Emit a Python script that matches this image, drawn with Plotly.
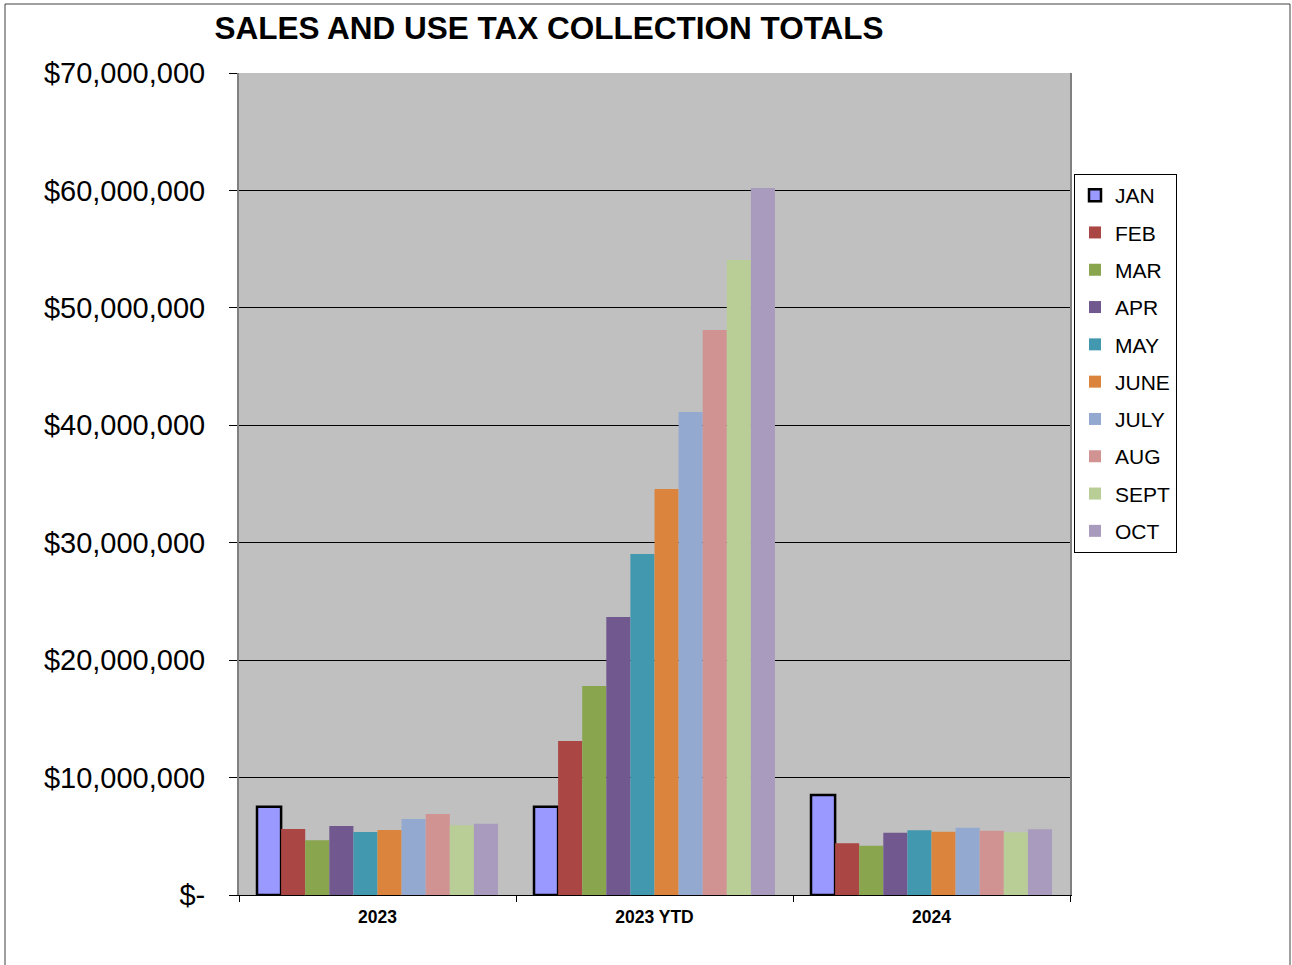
import plotly.graph_objects as go

categories = ["2023", "2023 YTD", "2024"]
months = ["JAN", "FEB", "MAR", "APR", "MAY", "JUNE", "JULY", "AUG", "SEPT", "OCT"]

vals_2023 = [7.52, 5.62, 4.66, 5.88, 5.37, 5.54, 6.47, 6.90, 5.93, 6.07]
vals_2023_ytd = [7.52, 13.11, 17.80, 23.67, 29.04, 34.57, 41.13, 48.11, 54.07, 60.21]
vals_2024 = [8.52, 4.40, 4.20, 5.31, 5.51, 5.39, 5.73, 5.48, 5.34, 5.59]

colors = ["#9999FF", "#AA4643", "#89A54E", "#71588F", "#4198AF",
          "#DB843D", "#93A9CF", "#D19392", "#B9CD96", "#A99BBD"]

ytick_vals = [0, 10e6, 20e6, 30e6, 40e6, 50e6, 60e6, 70e6]
ytick_text = ["$-", "$10,000,000", "$20,000,000", "$30,000,000", "$40,000,000",
              "$50,000,000", "$60,000,000", "$70,000,000"]

FONT = "Liberation Sans, Arial, sans-serif"

fig = go.Figure()
for i, m in enumerate(months):
    ys = [vals_2023[i] * 1e6, vals_2023_ytd[i] * 1e6, vals_2024[i] * 1e6]
    fig.add_trace(go.Bar(
        x=categories, y=ys, name=m,
        legendgroup=m,
        marker=dict(color=colors[i],
                    line=dict(color="black" if i == 0 else colors[i],
                              width=2.5 if i == 0 else 0)),
    ))

fig.update_layout(
    width=1292, height=965,
    margin=dict(l=239, r=222, t=73, b=70),
    paper_bgcolor="white",
    plot_bgcolor="#C0C0C0",
    barmode="group",
    bargap=0.13,
    bargroupgap=0,
    font=dict(family=FONT, color="black"),
    title=dict(text="<b>SALES AND USE TAX COLLECTION TOTALS</b>",
               x=549 / 1292, xanchor="center", y=1 - 28 / 965, yanchor="middle",
               font=dict(size=31.5, family=FONT, color="black")),
    legend=dict(x=(1074 - 239) / 831, xanchor="left",
                y=(895 - 174) / 822, yanchor="top",
                bgcolor="white", bordercolor="black", borderwidth=1,
                font=dict(size=21, family=FONT),
                tracegroupgap=7, itemwidth=30),
    showlegend=True,
)

fig.update_xaxes(
    type="category",
    tickfont=dict(size=17.5, family=FONT, color="black", weight="bold"),
    ticks="outside", tickson="boundaries", ticklen=6, tickcolor="black",
    ticklabelstandoff=6,
    showline=True, linecolor="black", linewidth=1,
    showgrid=False,
)
fig.update_yaxes(
    range=[0, 70e6],
    tickvals=ytick_vals, ticktext=ytick_text,
    tickfont=dict(size=29, family=FONT, color="black"),
    ticks="outside", ticklen=8, tickcolor="black",
    ticklabelstandoff=18,
    showgrid=True, gridcolor="black", gridwidth=1,
    showline=True, linecolor="#808080", linewidth=2, mirror=True,
    zeroline=False,
)

# outer chart border
fig.add_shape(type="rect", xref="paper", yref="paper",
              x0=(5 - 239) / 831, x1=(1290 - 239) / 831,
              y0=(895 - 975) / 822, y1=(895 - 4) / 822,
              line=dict(color="#404040", width=1), fillcolor="rgba(0,0,0,0)",
              layer="below")

fig.write_html("out.html", config={"displayModeBar": False},
               post_script="document.body.style.margin='0px';")
